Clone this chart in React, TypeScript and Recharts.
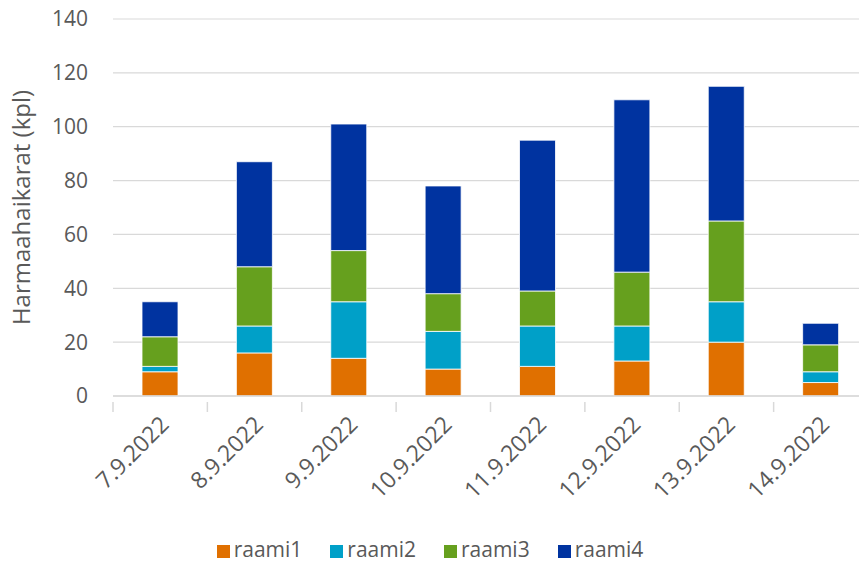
import React from 'react';
import { BarChart, Bar, XAxis, YAxis, CartesianGrid, Legend } from 'recharts';

const categories = ['7.9.2022', '8.9.2022', '9.9.2022', '10.9.2022', '11.9.2022', '12.9.2022', '13.9.2022', '14.9.2022'];
const raami1 = [9, 16, 14, 10, 11, 13, 20, 5];
const raami2 = [2, 10, 21, 14, 15, 13, 15, 4];
const raami3 = [11, 22, 19, 14, 13, 20, 30, 10];
const raami4 = [13, 39, 47, 40, 56, 64, 50, 8];
const yTicks = [0, 20, 40, 60, 80, 100, 120, 140];

const data = categories.map((c, i) => ({
  date: c,
  raami1: raami1[i],
  raami2: raami2[i],
  raami3: raami3[i],
  raami4: raami4[i],
}));

const VIEW_W = 859;
const W = 868;
const H = 563;
const M = { top: 19, right: 0, left: 0, bottom: 0 };
const YW = 113;
const plotW = W - M.left - M.right - YW;
const band = plotW / categories.length;
const FONT = '"Open Sans", "Noto Sans", sans-serif';
const TXT = '#595959';

const XTick = (props: any) => {
  const { x, y, payload, index } = props;
  return (
    <g>
      <line x1={x - band / 2} y1={y - 2} x2={x - band / 2} y2={y + 8} stroke="#d9d9d9" strokeWidth={1.5} />
      {index === categories.length - 1 && (
        <line x1={x + band / 2} y1={y - 2} x2={x + band / 2} y2={y + 8} stroke="#d9d9d9" strokeWidth={1.5} />
      )}
      <text
        x={x + 10}
        y={y + 22}
        textAnchor="end"
        fill={TXT}
        fontSize={23}
        fontFamily={FONT}
        transform={`rotate(-45, ${x + 10}, ${y + 22})`}
      >
        {payload.value}
      </text>
    </g>
  );
};

export default function App() {
  return (
    <div style={{ position: 'absolute', left: 0, top: 0, width: VIEW_W, height: H, overflow: 'hidden', background: '#fff' }}>
      <BarChart width={W} height={H} data={data} margin={M} barSize={36}>
        <CartesianGrid vertical={false} stroke="#d9d9d9" strokeWidth={1.2} />
        <XAxis
          dataKey="date"
          tick={<XTick />}
          tickLine={false}
          axisLine={{ stroke: '#d9d9d9', strokeWidth: 1.5 }}
          height={139}
          interval={0}
        />
        <YAxis
          width={YW}
          ticks={yTicks}
          domain={[0, 140]}
          tickLine={false}
          axisLine={false}
          tickSize={0}
          tickMargin={25}
          tick={{ fill: TXT, fontSize: 21, fontFamily: FONT }}
          label={{
            value: 'Harmaahaikarat (kpl)',
            angle: -90,
            position: 'insideLeft',
            dx: 16,
            dy: 0,
            style: { textAnchor: 'middle', fill: TXT, fontSize: 24, fontFamily: FONT },
          }}
        />
        <Legend
          verticalAlign="bottom"
          align="center"
          iconType="square"
          iconSize={13}
          wrapperStyle={{ fontFamily: FONT, fontSize: 21, color: TXT, paddingLeft: 10 }}
          formatter={(v: string) => <span style={{ color: TXT, marginRight: 18 }}>{v}</span>}
        />
        <Bar dataKey="raami1" stackId="a" fill="#E07000" stroke="#fff" strokeWidth={0.8} isAnimationActive={false} />
        <Bar dataKey="raami2" stackId="a" fill="#00A0C8" stroke="#fff" strokeWidth={0.8} isAnimationActive={false} />
        <Bar dataKey="raami3" stackId="a" fill="#66A01E" stroke="#fff" strokeWidth={0.8} isAnimationActive={false} />
        <Bar dataKey="raami4" stackId="a" fill="#0033A0" stroke="#fff" strokeWidth={0.8} isAnimationActive={false} />
      </BarChart>
    </div>
  );
}
